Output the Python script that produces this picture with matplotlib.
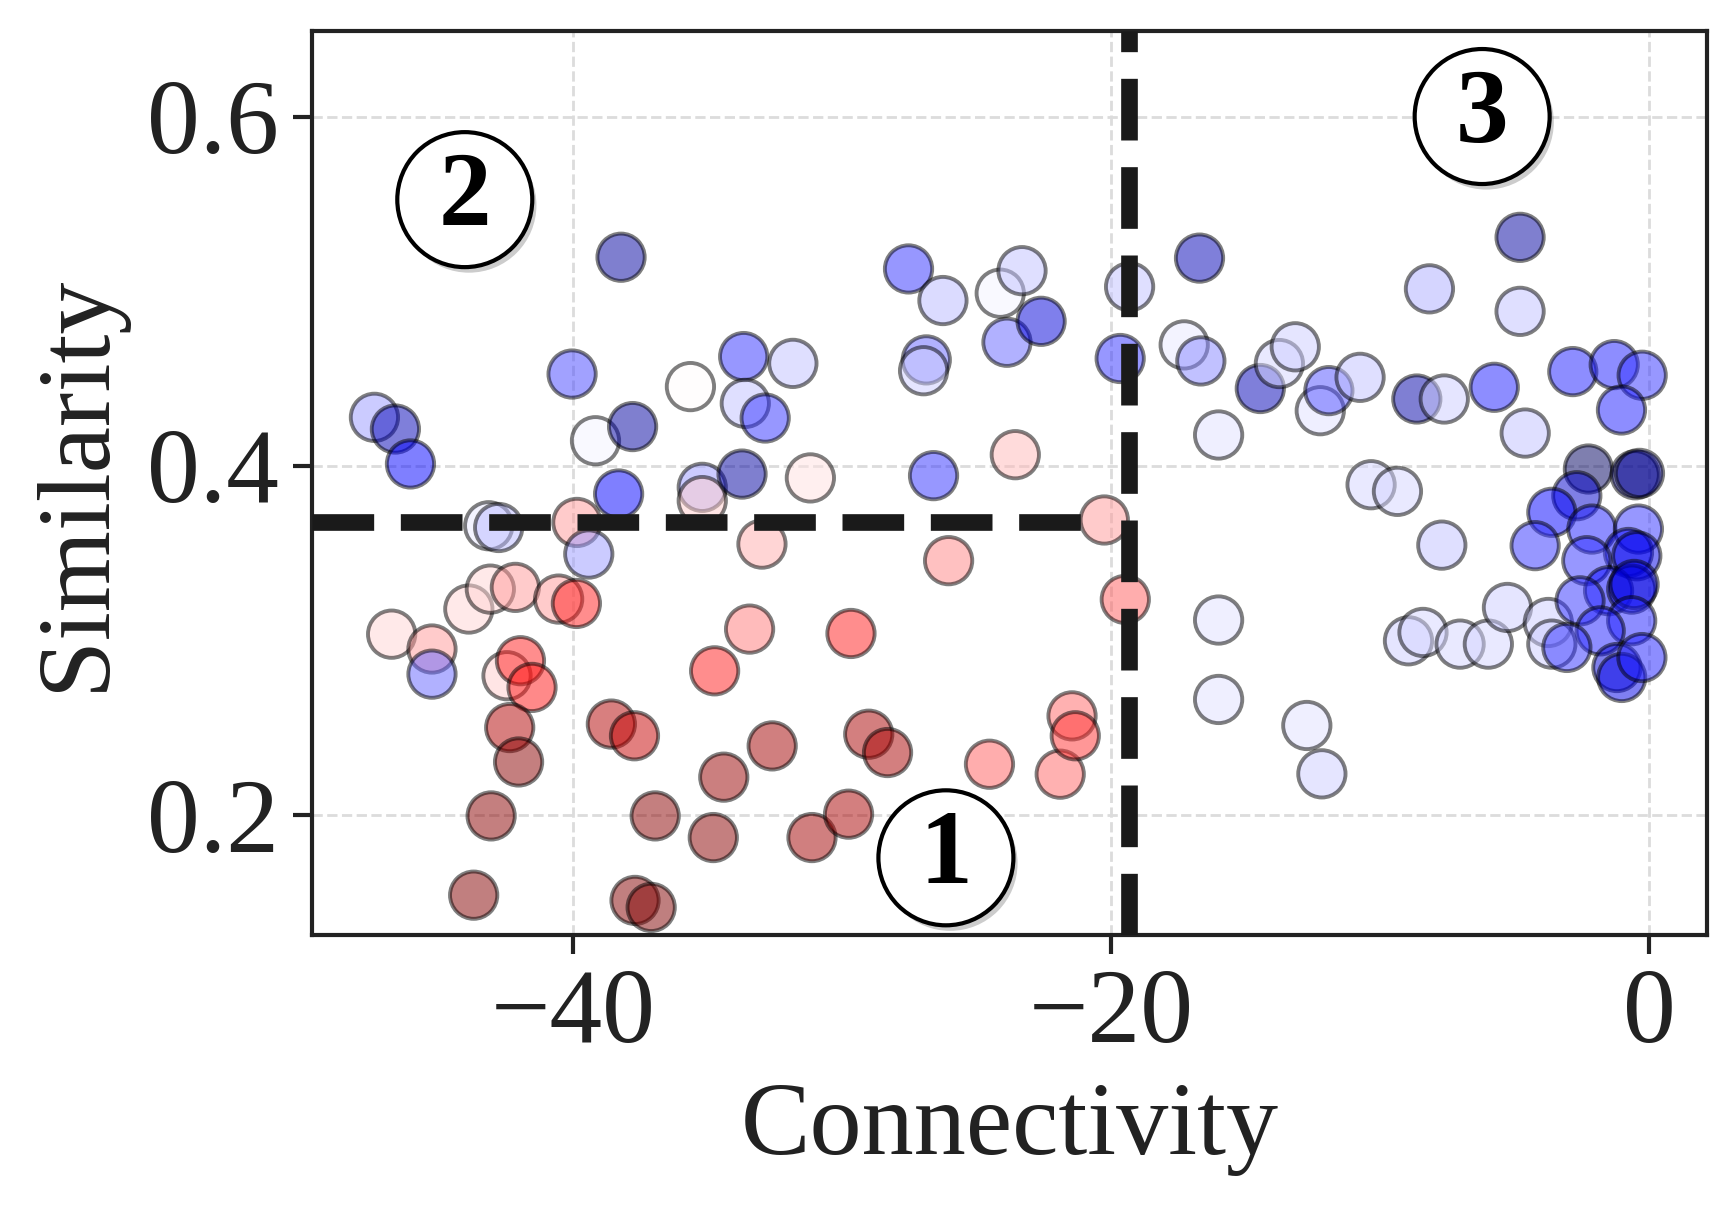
import matplotlib
matplotlib.use("Agg")
import matplotlib.pyplot as plt
import matplotlib.patheffects as pe

plt.rcParams['font.family'] = ['Liberation Serif', 'DejaVu Serif']
plt.rcParams['axes.unicode_minus'] = True

# data (x = connectivity, y = similarity, shade = colour value on seismic)
connectivity = [
    -47.39, -46.61, -46.05, -46.75, -45.25, -45.25, -43.88, -43.08, -42.15, -43.14,
    -42.77, -42.46, -41.96, -41.53, -42.36, -42.03, -43.05, -43.70, -40.54, -39.88,
    -39.86, -39.42, -40.04, -39.17, -38.22, -37.79, -38.31, -38.58, -37.72, -37.70,
    -37.10, -36.95, -35.64, -35.20, -35.20, -34.74, -34.40, -34.79, -33.66, -33.60,
    -33.72, -32.86, -32.98, -33.44, -32.60, -31.83, -31.18, -31.12, -29.76, -29.67,
    -29.01, -28.31, -27.53, -26.25, -26.87, -26.97, -26.60, -26.04, -24.12, -23.31,
    -23.87, -22.60, -23.56, -24.52, -21.89, -21.45, -21.33, -20.25, -19.47, -19.31,
    -19.66,
    -16.71, -17.28, -16.66, -16.00, -16.00, -16.00, -14.45, -13.74, -13.15, -12.22,
    -11.90, -10.74, -12.72, -12.16, -10.33, -9.35, -8.94, -8.40, -8.16, -8.63,
    -7.61, -7.70, -7.02, -5.97, -5.75, -4.79, -4.79, -4.60, -5.26, -3.74,
    -3.61,
    -2.83, -1.29, -0.25, -1.02, -2.25, -0.51, -0.35, -2.68, -3.61, -4.23,
    -2.12, -0.39, -0.76, -0.45, -2.31, -1.50, -0.64, -0.55, -2.56, -0.64,
    -1.81, -3.05, -1.19, -1.01, -0.26,
]
similarity = [
    0.4277, 0.4210, 0.4010, 0.3035, 0.2950, 0.2806, 0.3179, 0.3293, 0.3303, 0.3656,
    0.3646, 0.2797, 0.2883, 0.2730, 0.2500, 0.2303, 0.1994, 0.1540, 0.3236, 0.3211,
    0.3675, 0.3494, 0.4525, 0.4143, 0.5194, 0.4224, 0.3838, 0.2520, 0.2453, 0.1510,
    0.1470, 0.1994, 0.4453, 0.3876, 0.3800, 0.2825, 0.2216, 0.1870, 0.4625, 0.4357,
    0.3952, 0.4273, 0.3551, 0.3064, 0.2395, 0.4586, 0.3930, 0.1870, 0.2004, 0.3039,
    0.2462, 0.2357, 0.5127, 0.4946, 0.4606, 0.4544, 0.3943, 0.3456, 0.4988, 0.5117,
    0.4707, 0.4827, 0.4063, 0.2290, 0.2233, 0.2567, 0.2453, 0.3689, 0.3234, 0.5025,
    0.4614,
    0.5189, 0.4692, 0.4600, 0.4176, 0.3116, 0.2661, 0.4442, 0.4585, 0.4681, 0.4315,
    0.4430, 0.4506, 0.2512, 0.2235, 0.3891, 0.3853, 0.2997, 0.3045, 0.5013, 0.4382,
    0.4382, 0.3545, 0.2978, 0.2978, 0.4449, 0.5308, 0.4884, 0.4187, 0.3188, 0.3102,
    0.2978,
    0.4539, 0.4579, 0.4518, 0.4319, 0.3981, 0.3948, 0.3956, 0.3828, 0.3733, 0.3542,
    0.3637, 0.3637, 0.3503, 0.3484, 0.3456, 0.3284, 0.3293, 0.3320, 0.3226, 0.3112,
    0.3054, 0.2959, 0.2844, 0.2787, 0.2901,
]
shade = [
    0.40, 0.15, 0.25, 0.54, 0.60, 0.35, 0.54, 0.54, 0.60, 0.48,
    0.43, 0.55, 0.72, 0.73, 0.90, 0.98, 0.98, 0.99, 0.60, 0.72,
    0.60, 0.40, 0.32, 0.49, 0.12, 0.12, 0.25, 0.90, 0.86, 0.99,
    1.00, 0.98, 0.50, 0.40, 0.55, 0.72, 0.95, 0.98, 0.30, 0.44,
    0.12, 0.30, 0.58, 0.63, 0.93, 0.44, 0.53, 0.93, 0.92, 0.72,
    0.92, 0.92, 0.30, 0.43, 0.35, 0.45, 0.30, 0.62, 0.49, 0.44,
    0.35, 0.20, 0.57, 0.66, 0.65, 0.65, 0.70, 0.60, 0.66, 0.44,
    0.30,
    0.15, 0.48, 0.38, 0.47, 0.47, 0.47, 0.15, 0.46, 0.45, 0.47,
    0.33, 0.44, 0.47, 0.45, 0.46, 0.46, 0.45, 0.46, 0.42, 0.13,
    0.45, 0.44, 0.46, 0.46, 0.28, 0.12, 0.44, 0.44, 0.45, 0.45,
    0.45,
    0.28, 0.28, 0.30, 0.28, 0.03, 0.08, 0.10, 0.18, 0.25, 0.30,
    0.28, 0.30, 0.25, 0.22, 0.30, 0.25, 0.20, 0.22, 0.30, 0.28,
    0.28, 0.30, 0.20, 0.22, 0.28,
]

region_labels = ['1', '2', '3']
region_x = [-26.14, -44.03, -6.2]
region_y = [0.1754, 0.5524, 0.600]

x_cut = -19.35
y_cut = 0.368
xlim = (-49.7, 2.15)
ylim = (0.131, 0.649)

fig = plt.figure(figsize=(8.675, 6.05), dpi=200)
ax = fig.add_axes([0.18, 0.227, 0.8037, 0.7474])

ax.grid(True, ls='--', lw=1.0, color='#dcdcdc', zorder=0)
ax.set_axisbelow(True)

ax.scatter(connectivity, similarity, c=shade, cmap='seismic', vmin=0, vmax=1,
           s=290, alpha=0.5, edgecolors='black', linewidths=1.4, zorder=2)

ax.set_xlim(*xlim)
ax.set_ylim(*ylim)

# region boundaries
frac = (-20.3 - xlim[0]) / (xlim[1] - xlim[0])
ax.axhline(y_cut, xmax=frac, color='#1a1a1a', ls='--', lw=6, zorder=3)
ax.axvline(x_cut, color='#1a1a1a', ls='--', lw=6, zorder=3)

# circled region numbers
for lab, x, y in zip(region_labels, region_x, region_y):
    t = ax.text(x, y, lab, fontsize=38, fontweight='bold', color='black',
                ha='center', va='center', zorder=5,
                bbox=dict(boxstyle='circle,pad=0.18', fc='white', ec='black', lw=1.5))
    t.get_bbox_patch().set_path_effects([
        pe.SimplePatchShadow(offset=(1.5, -2), shadow_rgbFace='gray', alpha=0.4),
        pe.Normal()])

ax.set_xticks([-40, -20, 0])
ax.set_yticks([0.2, 0.4, 0.6])
ax.set_yticklabels(['0.2', '0.4', '0.6'])
ax.tick_params(axis='both', direction='out', length=7, width=1.5,
               labelsize=38, colors='#222222', pad=5)
for sp in ax.spines.values():
    sp.set_linewidth(1.5)
    sp.set_color('#222222')

ax.set_xlabel('Connectivity', fontsize=37.5, color='#222222', labelpad=6)
ax.set_ylabel('Similarity', fontsize=37.5, color='#222222', labelpad=8)

fig.savefig('out.png', dpi=200)
